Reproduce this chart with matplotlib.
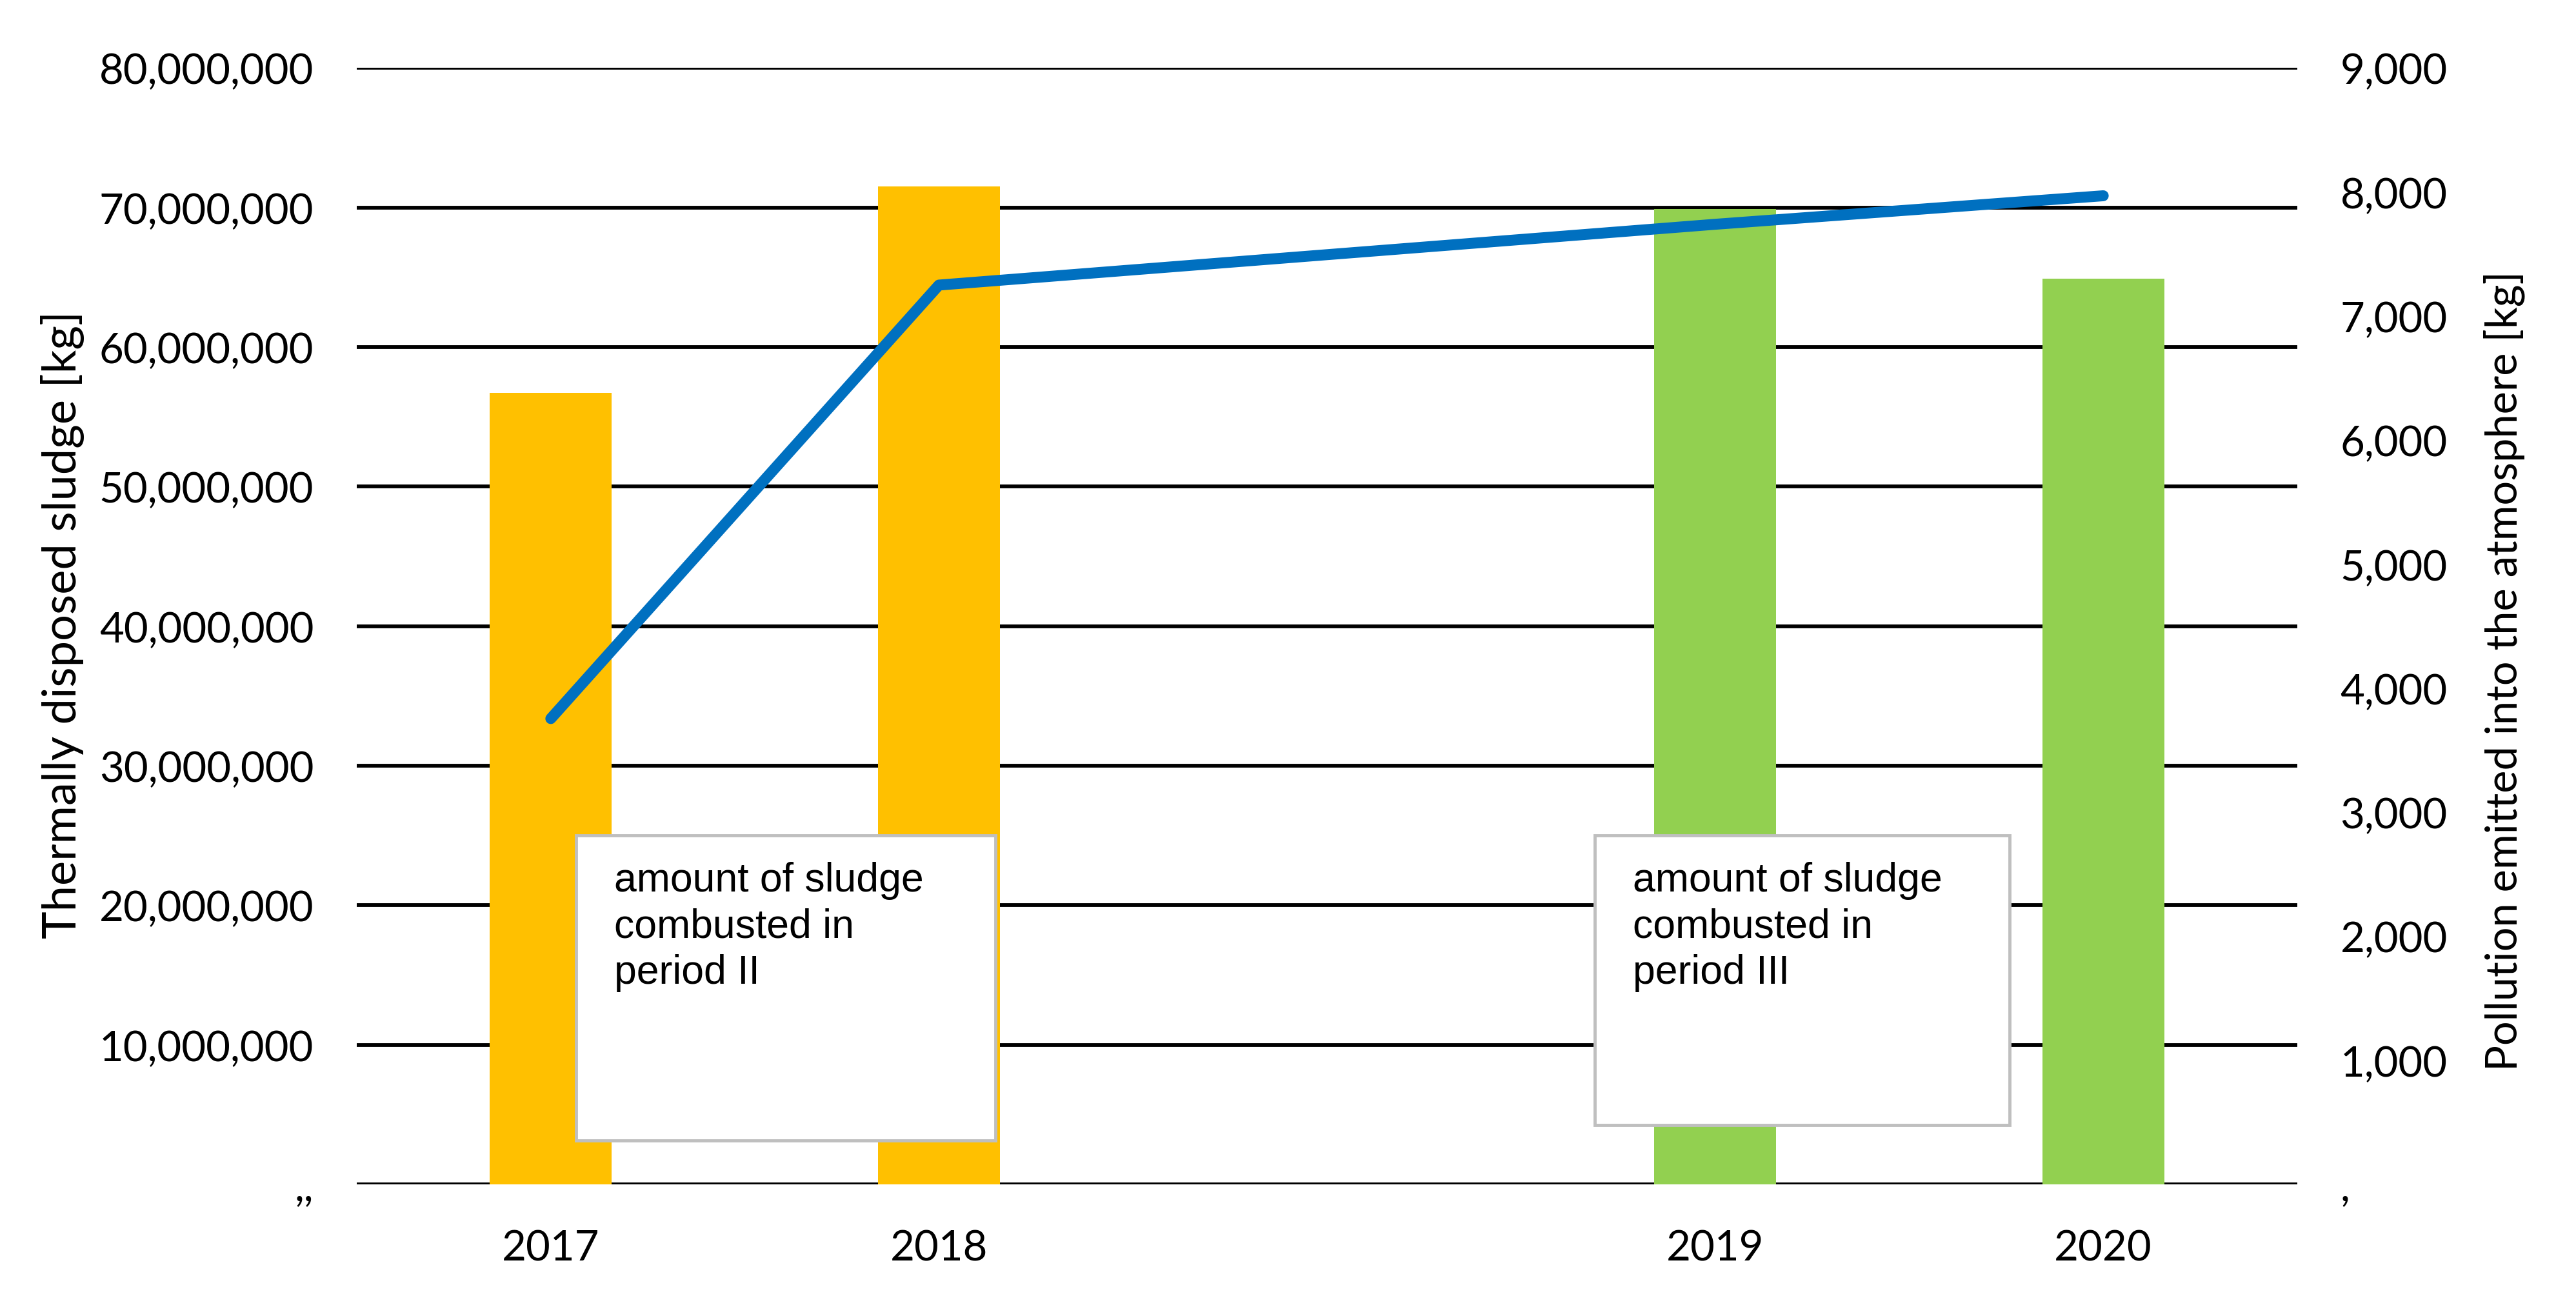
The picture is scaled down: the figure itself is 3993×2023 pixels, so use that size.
import numpy as np
import matplotlib
matplotlib.use("Agg")
import matplotlib.pyplot as plt
from matplotlib.ticker import FuncFormatter, MultipleLocator
from matplotlib.patches import Rectangle

# ---- data ----
years = ["2017", "2018", "", "2019", "2020"]
sludge_kg = [56.7e6, 71.5e6, np.nan, 69.9e6, 64.9e6]
bar_colors = ["#FFC000", "#FFC000", "#FFC000", "#92D050", "#92D050"]
pollution_kg = [3755, 7250, np.nan, 7740, 7970]
box_texts = ["amount of sludge\ncombusted in\nperiod II",
             "amount of sludge\ncombusted in\nperiod III"]

W, H = 3993, 2024
FS = 47
plt.rcParams.update({"font.family": ["Lato", "DejaVu Sans"], "font.size": FS})

fig = plt.figure(figsize=(W / 100, H / 100), dpi=100)
ax = fig.add_axes([553 / W, (H - 1837) / H, 3008 / W, 1730.6 / H])
x = np.arange(len(years))

ax.bar(x, sludge_kg, width=0.314, color=bar_colors, zorder=2)
ax.set_xlim(-0.5, len(years) - 0.5)
ax.set_ylim(0, 80e6)
ax.yaxis.set_major_locator(MultipleLocator(10e6))
ax.yaxis.set_major_formatter(FuncFormatter(lambda v, p: f"{int(v):,}" if v else ",,"))
ax.set_xticks(x, years)
ax.set_axisbelow(True)
ax.grid(axis="y", color="black", lw=4.2)
ax.tick_params(length=0, pad=48)
ax.tick_params(axis="x", pad=50)
for s in ax.spines.values():
    s.set_visible(False)

ax2 = ax.twinx()
ax2.set_ylim(0, 9000)
ax2.yaxis.set_major_locator(MultipleLocator(1000))
ax2.yaxis.set_major_formatter(FuncFormatter(lambda v, p: f"{int(v):,}" if v else ","))
ax2.tick_params(length=0, pad=48)
for s in ax2.spines.values():
    s.set_visible(False)

ok = ~np.isnan(np.array(pollution_kg, dtype=float))
ax2.plot(x[ok], np.array(pollution_kg)[ok], color="#0070C0", lw=12.2,
         solid_capstyle="round", solid_joinstyle="round", zorder=5)

# annotation boxes (axes fraction)
boxes = [(0.1130, 0.0393, 0.2161, 0.2733), (0.6380, 0.0532, 0.2137, 0.2594)]
for (bx, by, bw, bh), txt in zip(boxes, box_texts):
    ax2.add_patch(Rectangle((bx, by), bw, bh, transform=ax2.transAxes,
                            facecolor="white", edgecolor="#BFBFBF", lw=3.5,
                            zorder=3, clip_on=False))
    ax2.text(bx + 0.0196, by + bh - 0.023, txt, transform=ax2.transAxes,
             family="Liberation Sans", fontsize=45, va="top", ha="left",
             linespacing=1.27, zorder=4)

fig.text(97 / W, 1 - 968 / H, "Thermally disposed sludge [kg]", rotation=90,
         ha="center", va="center", fontsize=52)
fig.text(3882 / W, 1 - 1040 / H, "Pollution emitted into the atmosphere [kg]",
         rotation=90, ha="center", va="center", fontsize=48)

fig.savefig("out.png", dpi=100, facecolor="white")
